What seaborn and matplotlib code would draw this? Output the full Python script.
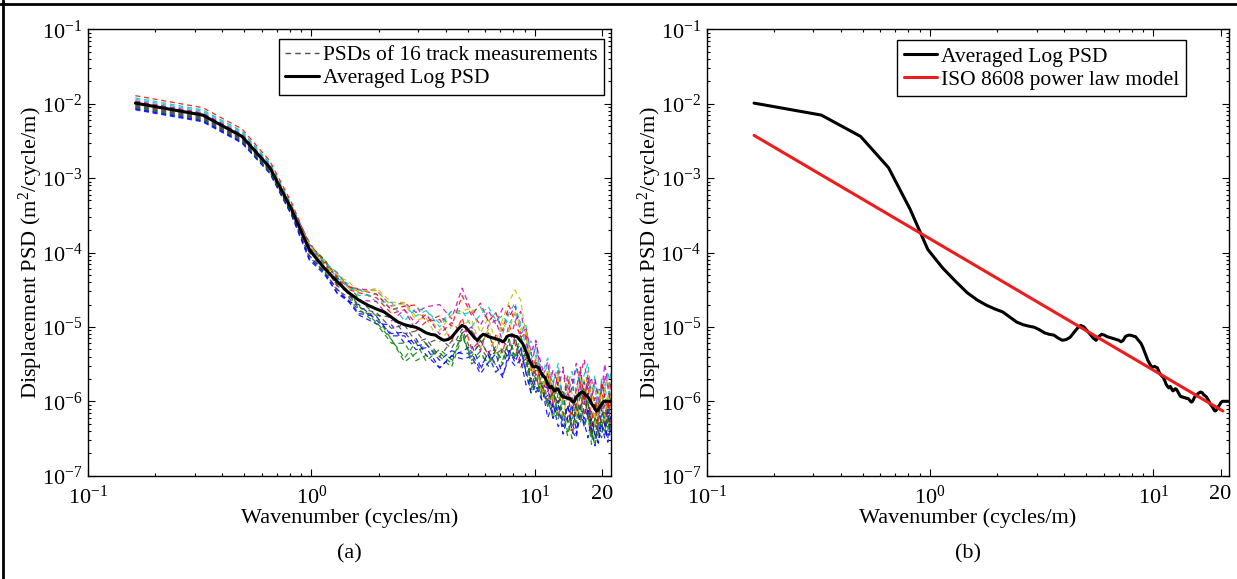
import numpy as np
import pandas as pd
import matplotlib
matplotlib.use("Agg")
import matplotlib.pyplot as plt
import seaborn as sns
from matplotlib.lines import Line2D
from matplotlib.ticker import LogLocator, NullFormatter

# ---------------- data ----------------
DF = 0.163          # wavenumber resolution (cycles/m)
N_POINTS = 134
wavenumber = DF * np.arange(1, N_POINTS + 1)

# averaged log10 PSD, one value per wavenumber bin
avg_log_psd = [
    -1.992, -2.153, -2.44, -2.86, -3.42, -3.96, -4.21, -4.39, -4.54, -4.64,
    -4.71, -4.76, -4.80, -4.87, -4.935, -4.97, -4.99, -5.005, -5.04, -5.08,
    -5.10, -5.11, -5.15, -5.18, -5.17, -5.14, -5.08, -5.02, -4.98, -5.00,
    -5.05, -5.10, -5.15, -5.18, -5.13, -5.10, -5.11, -5.13, -5.14, -5.15,
    -5.16, -5.17, -5.18, -5.20, -5.18, -5.13, -5.115, -5.11, -5.115, -5.125,
    -5.13, -5.16, -5.19, -5.22, -5.27, -5.33, -5.39, -5.45, -5.49, -5.53,
    -5.54, -5.53, -5.54, -5.55, -5.60, -5.64, -5.66, -5.68, -5.72, -5.77,
    -5.80, -5.82, -5.80, -5.83, -5.86, -5.85, -5.83, -5.84, -5.87, -5.90,
    -5.93, -5.94, -5.94, -5.95, -5.95, -5.96, -5.96, -5.965, -5.98, -6.00,
    -6.01, -6.00, -5.97, -5.94, -5.93, -5.92, -5.90, -5.89, -5.88, -5.875,
    -5.88, -5.89, -5.91, -5.92, -5.93, -5.94, -5.96, -5.98, -6.00, -6.03,
    -6.05, -6.06, -6.08, -6.10, -6.12, -6.13, -6.125, -6.11, -6.09, -6.07,
    -6.055, -6.04, -6.02, -6.01, -6.00, -6.00, -6.00, -6.00, -6.00, -6.00,
    -6.00, -6.00, -6.00, -6.00,
]

# bins (1-based) at which the 16 individual track PSDs are drawn
track_bins = [1, 2, 3, 4, 5, 6, 7, 8, 9, 10, 12, 14, 16, 18, 20, 23, 26, 29, 32,
              35, 38, 41, 44, 47, 50, 53, 56, 59, 62, 66, 70, 74, 78, 82, 86, 90,
              94, 98, 102, 106, 110, 114, 118, 122, 126, 130, 134]

# deviation of each track from the averaged log PSD (hundredths of a decade)
track_01 = [-7,-7,-7,-6,-6, -8,-5,-10,-12,-6, -15,-22,-10,-25,-15, -30,-18,-38,-25,-45,-20,-35,-48,-22,-30, -10,-28,-5,-30,-15, -5,-35,-15,-40,-10,-30,-50,-15,-35,5,-40,-20,-45,-5,-30,-50,-20]
track_02 = [2,2,2,2,1, 3,8,-4,2,-8, -18,-30,-45,-20,-38, -15,-30,-10,-35,-20,-40,-15,-25,-5,-30, 10,-15,-35,-5,-25, 15,-20,-40,0,-30,-50,-10,-35,5,-25,-45,-15,10,-30,-20,-40,0]
track_03 = [1,1,1,1,1, -3,5,-6,4,10, 15,5,20,-5,15, 25,-5,10,-20,-5,-25,5,-15,15,-10, -35,-10,15,-20,5, -25,10,-35,-5,20,-40,-10,15,-30,-5,-45,10,-20,25,-35,0,-30]
track_04 = [7,7,7,6,6, 8,10,4,12,6, 20,10,25,15,30, 20,35,15,30,40,20,35,10,30,45, 20,35,5,25,-5, 25,5,35,-10,20,40,5,30,-15,25,10,45,-5,30,15,40,20]
track_05 = [3,3,3,3,3, 10,5,12,8,15, 25,15,30,20,35, 45,25,50,30,15,35,20,45,25,40, 10,30,15,35,-5, 30,-10,20,40,5,30,-20,25,45,10,35,-5,30,15,50,25,5]
track_06 = [0,0,0,0,0, 5,12,8,15,10, 28,20,30,15,25, 10,30,20,35,5,25,-5,30,45,62, 55,20,-10,15,-20, 10,-15,25,-5,30,10,-25,20,-10,35,0,-20,25,-5,15,30,5]
track_07 = [-2,-2,-2,-2,-2, -4,2,-6,0,-10, -5,-15,0,-20,-8, -25,-5,-20,5,-15,-30,-10,5,-25,-5, -20,5,-30,-10,-35, -5,-25,10,-30,-15,5,-35,-20,0,-30,-10,-40,-5,-25,10,-20,-35]
track_08 = [-8,-8,-8,-7,-7, -12,-6,-15,-10,-18, -10,-25,-15,-30,-20, -40,-25,-45,-30,-50,-35,-20,-45,-30,-40, -25,-45,-20,-35,-15, -45,-20,-50,-30,-10,-40,-55,-25,-45,-15,-35,-50,-20,-40,-30,-55,-35]
track_09 = [-3,-3,-3,-3,-3, 6,12,5,10,2, -10,-30,-50,-35,-15, -25,-40,-15,-30,-5,-25,-35,-10,-30,-20, -5,-25,-40,-15,-30, -20,-40,-5,-30,-50,-15,-35,0,-45,-25,-55,-10,-30,-45,-15,-35,-25]
track_10 = [10,10,10,9,9, 6,10,3,8,14, 20,10,25,30,15, 30,15,40,25,45,20,35,15,40,20, 5,25,-10,10,-25, 15,-20,25,-5,30,-15,10,35,-10,20,-30,15,-5,30,5,-15,25]
track_11 = [5,5,5,5,5, 2,8,12,5,15, 10,20,5,25,30, 15,35,20,10,30,40,25,35,15,30, 25,5,30,15,0, 35,10,25,-10,30,15,40,5,25,45,10,30,-5,35,20,0,40]
track_12 = [-4,-4,-4,-4,-4, 5,-3,8,-5,0, 10,-5,20,5,25, 5,20,-10,10,-20,15,25,0,-15,20, 40,15,-5,30,10, -10,25,5,35,-5,20,45,10,-15,30,5,40,15,-10,35,20,-5]
track_13 = [-1,-1,-1,-1,-1, 8,3,10,6,12, 25,15,28,10,20, -5,15,0,20,-15,10,-20,25,5,35, 15,30,-15,5,-25, 20,-5,15,-30,10,-15,5,-35,20,-10,30,-25,0,15,-20,10,-10]
track_14 = [-5,-5,-5,-5,-5, -10,-4,-12,-6,-15, -8,0,-12,-5,-15, 0,-15,-5,-25,-10,5,-20,-10,-30,0, -30,-10,-25,5,-15, -30,-5,-20,10,-35,-15,0,-25,15,-30,-10,5,-35,-15,-5,-30,10]
track_15 = [-9,-9,-9,-8,-8, -14,-8,-16,-12,-20, -20,-10,-25,-15,-30, -40,-25,-35,-15,-40,-25,-45,-30,-20,-35, -10,-30,-40,-25,-35, -15,-40,-20,-50,-25,-5,-45,-30,-40,-55,-20,-35,-45,-25,-50,-10,-45]
track_16 = [-6,-6,-6,-6,-5, 0,-8,4,-2,-12, -20,-35,-25,-45,-30, -20,-35,-10,-40,-25,-35,-15,-30,-5,-25, -20,-5,-25,-35,-10, -30,0,-35,-20,-45,-25,-10,-40,-20,-5,-35,-50,-15,-30,-40,-20,-45]

tracks = [track_01, track_02, track_03, track_04, track_05, track_06, track_07, track_08,
          track_09, track_10, track_11, track_12, track_13, track_14, track_15, track_16]

# ISO 8608 power-law model (straight line in log-log), end points
iso_wavenumber = [0.163, 20.5]
iso_psd = [3.75e-3, 7.4e-7]

# MATLAB classic colour order
matlab_colors = ["#0000FF", "#008000", "#FF0000", "#00BFBF", "#BF00BF", "#BFBF00", "#404040"]

x_ticks = [0.1, 1, 10, 20]
x_ticklabels = [r"$10^{-1}$", r"$10^{0}$", r"$10^{1}$", "20"]

# ---------------- build tables ----------------
avg_psd = 10.0 ** np.array(avg_log_psd)
bins0 = np.array(track_bins) - 1
rows = []
for i, dev in enumerate(tracks):
    vals = 10.0 ** (np.array(avg_log_psd)[bins0] + np.array(dev) / 100.0)
    for k, v in zip(wavenumber[bins0], vals):
        rows.append({"track": f"T{i+1:02d}", "wavenumber": k, "psd": v})
df_tracks = pd.DataFrame(rows)
df_avg = pd.DataFrame({"wavenumber": wavenumber, "psd": avg_psd})
df_iso = pd.DataFrame({"wavenumber": iso_wavenumber, "psd": iso_psd})
track_palette = [matlab_colors[i % len(matlab_colors)] for i in range(len(tracks))]

# ---------------- style ----------------
sns.set_theme(style="ticks")
plt.rcParams["font.family"] = ["Liberation Serif", "DejaVu Serif"]
plt.rcParams["mathtext.fontset"] = "custom"
plt.rcParams["mathtext.rm"] = "Liberation Serif"
plt.rcParams["mathtext.it"] = "Liberation Serif:italic"
plt.rcParams["mathtext.bf"] = "Liberation Serif:bold"
plt.rcParams["font.size"] = 16
plt.rcParams["axes.edgecolor"] = "black"
plt.rcParams["axes.linewidth"] = 1.0
plt.rcParams["text.color"] = "black"
plt.rcParams["axes.labelcolor"] = "black"
plt.rcParams["xtick.color"] = "black"
plt.rcParams["ytick.color"] = "black"

fig = plt.figure(figsize=(12.37, 5.79), dpi=100)
axL = fig.add_axes([0.0711, 0.1784, 0.4228, 0.771])
axR = fig.add_axes([0.5713, 0.1784, 0.4225, 0.771])

for ax in (axL, axR):
    ax.set_xscale("log")
    ax.set_yscale("log")

# left panel
sns.lineplot(data=df_tracks, x="wavenumber", y="psd", hue="track", palette=track_palette,
             estimator=None, sort=False, legend=False, linewidth=0.9, alpha=0.85, ax=axL)
for ln in axL.lines:
    ln.set_dashes((4, 3))
sns.lineplot(data=df_avg, x="wavenumber", y="psd", color="black", linewidth=2.2,
             estimator=None, sort=False, legend=False, ax=axL)

# right panel
sns.lineplot(data=df_avg, x="wavenumber", y="psd", color="black", linewidth=2.2,
             estimator=None, sort=False, legend=False, ax=axR)
sns.lineplot(data=df_iso, x="wavenumber", y="psd", color="#EE1C1C", linewidth=2.2,
             estimator=None, sort=False, legend=False, ax=axR)

for ax in (axL, axR):
    ax.set_xlim(0.1, 21.9)
    ax.set_ylim(1e-7, 1e-1)
    ax.set_xticks(x_ticks)
    ax.set_xticklabels(x_ticklabels)
    ax.xaxis.set_minor_locator(LogLocator(base=10, subs=np.arange(2, 10), numticks=50))
    ax.xaxis.set_minor_formatter(NullFormatter())
    ax.yaxis.set_major_locator(LogLocator(base=10, numticks=20))
    ax.yaxis.set_minor_locator(LogLocator(base=10, subs=np.arange(2, 10), numticks=50))
    ax.yaxis.set_minor_formatter(NullFormatter())
    ax.tick_params(which="both", direction="in", top=True, right=True, labelsize=16, width=0.8)
    ax.tick_params(which="major", length=5)
    ax.tick_params(axis="x", which="major", pad=7)
    ax.tick_params(axis="y", which="major", pad=4)
    ax.tick_params(which="minor", length=2.5)
    ax.set_xlabel("Wavenumber (cycles/m)", fontsize=16)
    ax.set_ylabel("Displacement PSD (m$^2$/cycle/m)", fontsize=16)
    ax.xaxis.set_label_coords(0.5, -0.074)
    ax.yaxis.set_label_coords(-0.082, 0.5)
    for s in ax.spines.values():
        s.set_visible(True)
        s.set_color("black")
        s.set_linewidth(1.0)
    ax.grid(False)

leg_kw = dict(loc="upper right", borderaxespad=0, frameon=True, fancybox=False,
              edgecolor="black", framealpha=1, facecolor="white", fontsize=15.5,
              handlelength=1.55, handletextpad=0.2, borderpad=0.3, labelspacing=0.15)

hL = [Line2D([], [], color="#505050", linewidth=1.0, dashes=(4, 3)),
      Line2D([], [], color="black", linewidth=2.2)]
legL = axL.legend(hL, ["PSDs of 16 track measurements", "Averaged Log PSD"],
                  bbox_to_anchor=(0.987, 0.979), **leg_kw)
legL.get_frame().set_linewidth(1.0)

hR = [Line2D([], [], color="black", linewidth=2.2),
      Line2D([], [], color="#EE1C1C", linewidth=2.2)]
legR = axR.legend(hR, ["Averaged Log PSD", "ISO 8608 power law model"],
                  bbox_to_anchor=(0.917, 0.976), **leg_kw)
legR.get_frame().set_linewidth(1.0)

# sub-figure captions
fig.text((88 + 611) / 2 / 1237, 1 - 554 / 579, "(a)", ha="center", va="center", fontsize=16)
fig.text((706.7 + 1229.3) / 2 / 1237, 1 - 554 / 579, "(b)", ha="center", va="center", fontsize=16)

# outer frame (top and left edges visible in the original)
fig.add_artist(Line2D([0, 1], [1 - 4 / 579, 1 - 4 / 579], transform=fig.transFigure,
                      color="black", linewidth=2))
fig.add_artist(Line2D([3.5 / 1237, 3.5 / 1237], [0, 1], transform=fig.transFigure,
                      color="black", linewidth=2))

fig.savefig("out.png", dpi=100)
